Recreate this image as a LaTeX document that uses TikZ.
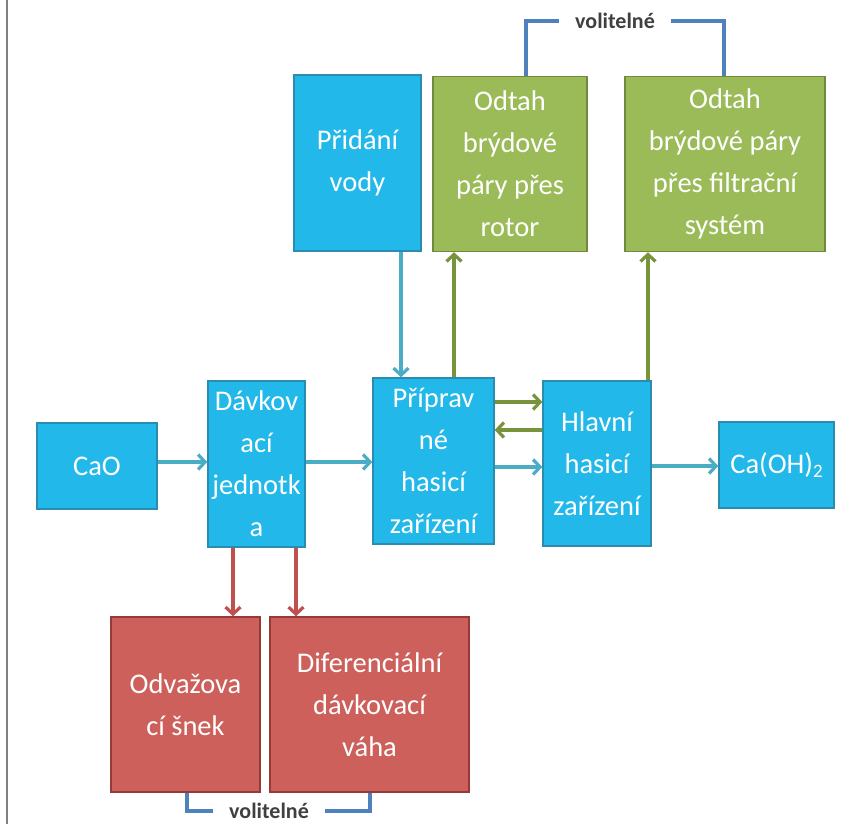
\documentclass[tikz,border=0pt]{standalone}
\usepackage{fontspec}
\setmainfont{Carlito}
\usetikzlibrary{arrows.meta}
\definecolor{bfill}{HTML}{22B8EA}
\definecolor{bdraw}{HTML}{2A8DB0}
\definecolor{gfill}{HTML}{9BBB59}
\definecolor{gdraw}{HTML}{71893F}
\definecolor{rfill}{HTML}{CD605B}
\definecolor{rdraw}{HTML}{953A37}
\definecolor{barrow}{HTML}{4BACC6}
\definecolor{garrow}{HTML}{77933C}
\definecolor{rarrow}{HTML}{C0504D}
\definecolor{brack}{HTML}{4F81BD}
\tikzset{
  box/.style={draw, line width=1.5pt, text=white, align=center, inner sep=0pt,
    font=\fontsize{28.5}{42}\selectfont},
  bluebox/.style={box, fill=bfill, draw=bdraw},
  greenbox/.style={box, fill=gfill, draw=gdraw},
  redbox/.style={box, fill=rfill, draw=rdraw},
  arr/.style={line width=3.2pt, -{Straight Barb[length=7pt,width=15pt]}},
  barr/.style={arr, draw=barrow},
  garr/.style={arr, draw=garrow},
  rarr/.style={arr, draw=rarrow},
  brk/.style={draw=brack, line width=3.2pt},
  vol/.style={font=\fontsize{22}{24}\selectfont\bfseries, text=black!75, inner xsep=16pt}
}
\begin{document}
\begin{tikzpicture}[x=1pt,y=-1pt]
\useasboundingbox (0,0) rectangle (867,824);
\fill[white] (0,0) rectangle (867,824);
\draw[gray, line width=1.4pt] (7,0) -- (7,824);

\node[bluebox, minimum width=120pt, minimum height=86pt] (cao) at (97,466) {CaO};
\node[bluebox, minimum width=97pt, minimum height=166pt] (davk) at (256.5,464) {Dávkov\\ací\\jednotk\\a};
\node[bluebox, minimum width=121pt, minimum height=166pt] (prip) at (433.5,461) {Příprav\\né\\hasicí\\zařízení};
\node[bluebox, minimum width=108pt, minimum height=165pt] (hlav) at (597,463.5) {Hlavní\\hasicí\\zařízení};
\node[bluebox, minimum width=115pt, minimum height=86pt] (caoh) at (776.5,465) {Ca(OH)\raisebox{-0.35ex}{\fontsize{19}{20}\selectfont 2}};
\node[bluebox, minimum width=127pt, minimum height=176pt] (voda) at (357.5,163) {Přidání\\vody};
\node[greenbox, minimum width=154pt, minimum height=175pt] (rotor) at (510,164) {Odtah\\brýdové\\páry přes\\rotor};
\node[greenbox, minimum width=200pt, minimum height=175pt] (filtr) at (725,164) {Odtah\\brýdové páry\\přes filtrační\\systém};
\node[redbox, minimum width=149pt, minimum height=175pt] (snek) at (185.5,704.5) {Odvažova\\cí šnek};
\node[redbox, minimum width=199pt, minimum height=175pt] (vaha) at (369.5,704.5) {Diferenciální\\dávkovací\\váha};

% blue arrows
\draw[barr] (cao.east |- 0,462) -- (davk.west |- 0,462);
\draw[barr] (davk.east |- 0,462) -- (prip.west |- 0,462);
\draw[barr] (voda.south -| 401,0) -- (prip.north -| 401,0);
\draw[barr] (prip.east |- 0,467) -- (hlav.west |- 0,467);
\draw[barr] (hlav.east |- 0,466) -- (caoh.west |- 0,466);
% green arrows
\draw[garr] (prip.north -| 454,0) -- (rotor.south -| 454,0);
\draw[garr] (hlav.north -| 648,0) -- (filtr.south -| 648,0);
\draw[garr] (prip.east |- 0,402) -- (hlav.west |- 0,402);
\draw[garr] (hlav.west |- 0,430) -- (prip.east |- 0,430);
% red arrows
\draw[rarr] (davk.south -| 233,0) -- (snek.north -| 233,0);
\draw[rarr] (davk.south -| 296,0) -- (vaha.north -| 296,0);

% brackets
\node[vol] (vtop) at (615,21) {volitelné};
\coordinate (tl) at (526,21);
\coordinate (tr) at (724,21);
\draw[brk] (rotor.north -| tl) -- (tl) -- (vtop.west |- tl);
\draw[brk] (vtop.east |- tr) -- (tr) -- (filtr.north -| tr);
\node[vol] (vbot) at (269,811) {volitelné};
\coordinate (bl) at (187,811);
\coordinate (br) at (370,811);
\draw[brk] (snek.south -| bl) -- (bl) -- (vbot.west |- bl);
\draw[brk] (vbot.east |- br) -- (br) -- (vaha.south -| br);
\end{tikzpicture}
\end{document}
